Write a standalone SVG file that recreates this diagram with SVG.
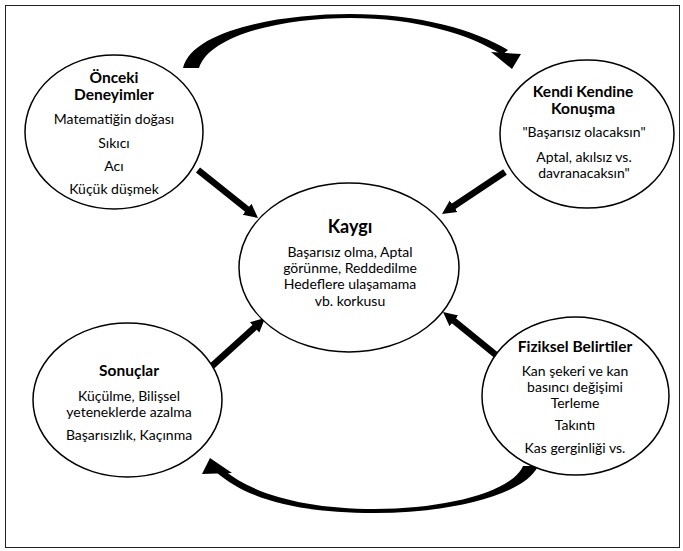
<svg xmlns="http://www.w3.org/2000/svg" width="683" height="551" viewBox="0 0 683 551">
<defs>
<style>
.node ellipse{fill:#fff;stroke:#000;stroke-width:1.5}
text{font-family:Lato,"Liberation Sans",sans-serif;font-size:14px;fill:#000;text-anchor:middle}
.h{font-weight:bold;font-size:15.5px}
.hk{font-weight:bold;font-size:18px}
.shaft{stroke:#000;stroke-width:6.5;fill:none}
.band{fill:#000}
</style>
<marker id="ah" markerUnits="userSpaceOnUse" markerWidth="16" markerHeight="16" refX="4" refY="8" orient="auto">
<path d="M0,1 L14,8 L0,15 Z" fill="#000"/>
</marker>
</defs>
<rect x="0" y="0" width="683" height="551" fill="#fff"/>
<rect x="5.5" y="5.5" width="674" height="542" fill="none" stroke="#222" stroke-width="1"/>
<g id="connectors">
<path class="band" d="M183,68 C192,30 280,14 350,14 C420,14 475,30 508,50 L502,55 C470,34 415,18 350,18 C285,18 210,34 199,68 Z"/>
<path class="band" d="M491,52 L521,54 L512,69 Z"/>
<path class="band" d="M538,466 C525,495 450,513 375,513 C300,513 248,500 216,472 L224,470 C252,494 305,509 375,509 C445,509 512,492 523,466 Z"/>
<path class="band" d="M210,458 L232,473 L202,474 Z"/>
<line class="shaft" x1="198" y1="170" x2="250.2" y2="211.8" marker-end="url(#ah)"/>
<line class="shaft" x1="505" y1="172" x2="450.3" y2="208.5" marker-end="url(#ah)"/>
<line class="shaft" x1="212" y1="366" x2="257.6" y2="324.7" marker-end="url(#ah)"/>
<line class="shaft" x1="496" y1="355" x2="450.8" y2="318.3" marker-end="url(#ah)"/>
</g>
<g id="onceki" class="node">
<ellipse cx="114" cy="132" rx="89" ry="77"/>
<text class="h" x="114" y="83">Önceki</text>
<text class="h" x="114" y="100">Deneyimler</text>
<text x="114" y="124">Matematiğin doğası</text>
<text x="114" y="148">Sıkıcı</text>
<text x="114" y="171">Acı</text>
<text x="114" y="194">Küçük düşmek</text>
</g>
<g id="kendi" class="node">
<ellipse cx="587" cy="134" rx="87" ry="74"/>
<text class="h" x="583" y="97">Kendi Kendine</text>
<text class="h" x="583" y="114">Konuşma</text>
<text x="584" y="137">"Başarısız olacaksın"</text>
<text x="584" y="162">Aptal, akılsız vs.</text>
<text x="584" y="178">davranacaksın"</text>
</g>
<g id="kaygi" class="node">
<ellipse cx="349" cy="267.5" rx="110" ry="84.5"/>
<text class="hk" x="350" y="233">Kaygı</text>
<text x="350" y="257">Başarısız olma, Aptal</text>
<text x="350" y="273">görünme, Reddedilme</text>
<text x="350" y="289">Hedeflere ulaşamama</text>
<text x="350" y="306">vb. korkusu</text>
</g>
<g id="sonuclar" class="node">
<ellipse cx="127.5" cy="400" rx="94.5" ry="77"/>
<text class="h" x="129" y="376">Sonuçlar</text>
<text x="129" y="401">Küçülme, Bilişsel</text>
<text x="129" y="417">yeteneklerde azalma</text>
<text x="129" y="440">Başarısızlık, Kaçınma</text>
</g>
<g id="fiziksel" class="node">
<ellipse cx="575.5" cy="396" rx="93.5" ry="79"/>
<text class="h" x="575" y="352">Fiziksel Belirtiler</text>
<text x="575" y="376">Kan şekeri ve kan</text>
<text x="575" y="392">basıncı değişimi</text>
<text x="575" y="408">Terleme</text>
<text x="575" y="430">Takıntı</text>
<text x="575" y="453">Kas gerginliği vs.</text>
</g>
</svg>
